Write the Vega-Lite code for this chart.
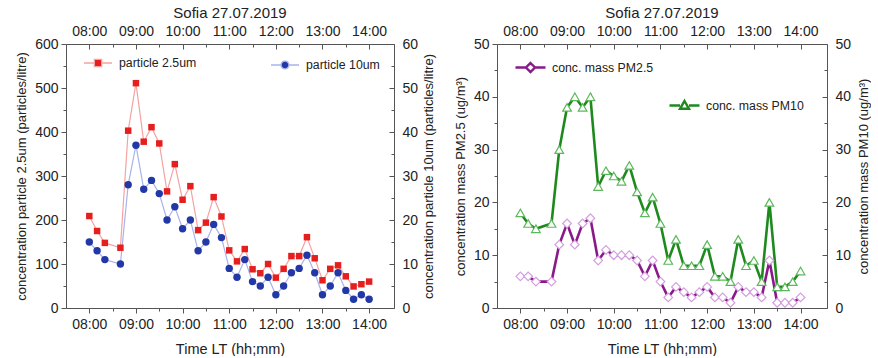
{
  "$schema": "https://vega.github.io/schema/vega-lite/v6.json",
  "padding": {"left": 15, "top": 6, "right": 0, "bottom": 0},
  "background": "white",
  "config": {
    "font": "Liberation Sans",
    "view": {"stroke": null},
    "axis": {"domainColor": "#555", "tickColor": "#555", "labelColor": "#222", "titleColor": "#222", "labelFontSize": 14, "titleFontSize": 13, "titleFontWeight": "normal", "grid": false, "domainWidth": 1, "tickWidth": 1},
    "title": {"fontSize": 15, "fontWeight": "normal", "color": "#222", "offset": 3},
    "legend": {"labelFontSize": 12.3, "labelColor": "#222", "labelFont": "Liberation Sans"}
  },
  "datasets": {
    "left": [
      {"time": "08:00", "p25": 209, "p10": 15},
      {"time": "08:10", "p25": 175, "p10": 13},
      {"time": "08:20", "p25": 148, "p10": 11},
      {"time": "08:40", "p25": 137, "p10": 10},
      {"time": "08:50", "p25": 403, "p10": 28},
      {"time": "09:00", "p25": 511, "p10": 37},
      {"time": "09:10", "p25": 378, "p10": 27},
      {"time": "09:20", "p25": 411, "p10": 29},
      {"time": "09:30", "p25": 374, "p10": 26},
      {"time": "09:40", "p25": 265, "p10": 20},
      {"time": "09:50", "p25": 327, "p10": 23},
      {"time": "10:00", "p25": 246, "p10": 18},
      {"time": "10:10", "p25": 277, "p10": 20},
      {"time": "10:20", "p25": 177, "p10": 13},
      {"time": "10:30", "p25": 194, "p10": 15},
      {"time": "10:40", "p25": 252, "p10": 19},
      {"time": "10:50", "p25": 208, "p10": 16},
      {"time": "11:00", "p25": 131, "p10": 9},
      {"time": "11:10", "p25": 106, "p10": 7},
      {"time": "11:20", "p25": 134, "p10": 11},
      {"time": "11:30", "p25": 88, "p10": 6},
      {"time": "11:40", "p25": 79, "p10": 5},
      {"time": "11:50", "p25": 100, "p10": 7},
      {"time": "12:00", "p25": 69, "p10": 3},
      {"time": "12:10", "p25": 89, "p10": 5},
      {"time": "12:20", "p25": 118, "p10": 8},
      {"time": "12:30", "p25": 118, "p10": 9},
      {"time": "12:40", "p25": 161, "p10": 12},
      {"time": "12:50", "p25": 113, "p10": 8},
      {"time": "13:00", "p25": 63, "p10": 3},
      {"time": "13:10", "p25": 89, "p10": 5},
      {"time": "13:20", "p25": 97, "p10": 8},
      {"time": "13:30", "p25": 72, "p10": 4},
      {"time": "13:40", "p25": 49, "p10": 2},
      {"time": "13:50", "p25": 54, "p10": 3},
      {"time": "14:00", "p25": 60, "p10": 2}
    ],
    "right": [
      {"time": "08:00", "pm25": 6, "pm10": 18},
      {"time": "08:10", "pm25": 6, "pm10": 16},
      {"time": "08:20", "pm25": 5, "pm10": 15},
      {"time": "08:40", "pm25": 5, "pm10": 16},
      {"time": "08:50", "pm25": 12, "pm10": 30},
      {"time": "09:00", "pm25": 16, "pm10": 38},
      {"time": "09:10", "pm25": 12, "pm10": 40},
      {"time": "09:20", "pm25": 16, "pm10": 38},
      {"time": "09:30", "pm25": 17, "pm10": 40},
      {"time": "09:40", "pm25": 9, "pm10": 23},
      {"time": "09:50", "pm25": 11, "pm10": 26},
      {"time": "10:00", "pm25": 10, "pm10": 25},
      {"time": "10:10", "pm25": 10, "pm10": 24},
      {"time": "10:20", "pm25": 10, "pm10": 27},
      {"time": "10:30", "pm25": 9, "pm10": 22},
      {"time": "10:40", "pm25": 6, "pm10": 18},
      {"time": "10:50", "pm25": 9, "pm10": 21},
      {"time": "11:00", "pm25": 5, "pm10": 16},
      {"time": "11:10", "pm25": 2, "pm10": 9},
      {"time": "11:20", "pm25": 4, "pm10": 13},
      {"time": "11:30", "pm25": 3, "pm10": 8},
      {"time": "11:40", "pm25": 2, "pm10": 8},
      {"time": "11:50", "pm25": 3, "pm10": 8},
      {"time": "12:00", "pm25": 4, "pm10": 12},
      {"time": "12:10", "pm25": 2, "pm10": 6},
      {"time": "12:20", "pm25": 2, "pm10": 6},
      {"time": "12:30", "pm25": 1, "pm10": 5},
      {"time": "12:40", "pm25": 4, "pm10": 13},
      {"time": "12:50", "pm25": 3, "pm10": 8},
      {"time": "13:00", "pm25": 3, "pm10": 9},
      {"time": "13:10", "pm25": 2, "pm10": 5},
      {"time": "13:20", "pm25": 9, "pm10": 20},
      {"time": "13:30", "pm25": 1, "pm10": 4},
      {"time": "13:40", "pm25": 1, "pm10": 4},
      {"time": "13:50", "pm25": 1, "pm10": 5},
      {"time": "14:00", "pm25": 2, "pm10": 7}
    ]
  },
  "spacing": 18,
  "hconcat": [
    {
      "width": 328,
      "height": 264,
      "title": "Sofia 27.07.2019",
      "data": {"name": "left", "format": {"parse": {"time": "date:'%H:%M'"}}},
      "resolve": {"scale": {"x": "independent", "y": "independent", "color": "independent"}},
      "layer": [
        {
          "mark": {"type": "line", "strokeWidth": 1.2},
          "encoding": {
            "x": {"field": "time", "type": "temporal",
              "scale": {"domain": [{"year": 1900, "month": 1, "date": 1, "hours": 7, "minutes": 30}, {"year": 1900, "month": 1, "date": 1, "hours": 14, "minutes": 32}]},
              "axis": {"orient": "bottom", "title": "Time LT (hh;mm)", "titleFontSize": 14.5, "format": "%H:%M", "labelExpr": "minutes(datum.value) == 0 ? datum.label : ''",
                "values": [{"year": 1900, "month": 1, "date": 1, "hours": 8, "minutes": 0}, {"year": 1900, "month": 1, "date": 1, "hours": 8, "minutes": 30}, {"year": 1900, "month": 1, "date": 1, "hours": 9, "minutes": 0}, {"year": 1900, "month": 1, "date": 1, "hours": 9, "minutes": 30}, {"year": 1900, "month": 1, "date": 1, "hours": 10, "minutes": 0}, {"year": 1900, "month": 1, "date": 1, "hours": 10, "minutes": 30}, {"year": 1900, "month": 1, "date": 1, "hours": 11, "minutes": 0}, {"year": 1900, "month": 1, "date": 1, "hours": 11, "minutes": 30}, {"year": 1900, "month": 1, "date": 1, "hours": 12, "minutes": 0}, {"year": 1900, "month": 1, "date": 1, "hours": 12, "minutes": 30}, {"year": 1900, "month": 1, "date": 1, "hours": 13, "minutes": 0}, {"year": 1900, "month": 1, "date": 1, "hours": 13, "minutes": 30}, {"year": 1900, "month": 1, "date": 1, "hours": 14, "minutes": 0}],
                "tickSize": {"condition": {"test": "minutes(datum.value) == 0", "value": 5}, "value": 3},
                "labelPadding": 4, "titlePadding": 11}},
            "y": {"field": "p25", "type": "quantitative", "scale": {"domain": [0, 600]},
              "axis": {"orient": "left", "title": "concentration particle 2.5um (particles/litre)", "values": [0, 50, 100, 150, 200, 250, 300, 350, 400, 450, 500, 550, 600], "labelExpr": "datum.value % 100 == 0 ? datum.label : ''",
                "tickSize": {"condition": {"test": "datum.value % 100 == 0", "value": 5}, "value": 3}, "labelPadding": 3, "titlePadding": 6}},
            "color": {"datum": "particle 2.5um", "type": "nominal", "scale": {"range": ["#f4a3a3"]},
              "legend": {"orient": "none", "legendX": 17, "legendY": 4, "title": null, "symbolType": "M-1,0H-0.26M0.26,0H1M-0.26,-0.26H0.26V0.26H-0.26Z", "symbolSize": 784, "symbolStrokeWidth": 1.3, "labelOffset": 6,
                "encode": {"symbols": {"update": {"fill": {"value": "#e61e1e"}, "stroke": {"value": "#f08c8c"}, "opacity": {"value": 1}, "strokeWidth": {"value": 1.3}}}}}}
          }
        },
        {
          "mark": {"type": "line", "strokeWidth": 1.2},
          "encoding": {
            "x": {"field": "time", "type": "temporal",
              "scale": {"domain": [{"year": 1900, "month": 1, "date": 1, "hours": 7, "minutes": 30}, {"year": 1900, "month": 1, "date": 1, "hours": 14, "minutes": 32}]},
              "axis": {"orient": "top", "title": null, "format": "%H:%M", "labelExpr": "minutes(datum.value) == 0 ? datum.label : ''",
                "values": [{"year": 1900, "month": 1, "date": 1, "hours": 8, "minutes": 0}, {"year": 1900, "month": 1, "date": 1, "hours": 8, "minutes": 30}, {"year": 1900, "month": 1, "date": 1, "hours": 9, "minutes": 0}, {"year": 1900, "month": 1, "date": 1, "hours": 9, "minutes": 30}, {"year": 1900, "month": 1, "date": 1, "hours": 10, "minutes": 0}, {"year": 1900, "month": 1, "date": 1, "hours": 10, "minutes": 30}, {"year": 1900, "month": 1, "date": 1, "hours": 11, "minutes": 0}, {"year": 1900, "month": 1, "date": 1, "hours": 11, "minutes": 30}, {"year": 1900, "month": 1, "date": 1, "hours": 12, "minutes": 0}, {"year": 1900, "month": 1, "date": 1, "hours": 12, "minutes": 30}, {"year": 1900, "month": 1, "date": 1, "hours": 13, "minutes": 0}, {"year": 1900, "month": 1, "date": 1, "hours": 13, "minutes": 30}, {"year": 1900, "month": 1, "date": 1, "hours": 14, "minutes": 0}],
                "tickSize": {"condition": {"test": "minutes(datum.value) == 0", "value": -5}, "value": -3},
                "labelPadding": 11}},
            "y": {"field": "p10", "type": "quantitative", "scale": {"domain": [0, 60]},
              "axis": {"orient": "right", "title": "concentration particle 10um (particles/litre)", "titleAngle": -90, "titleBaseline": "top", "values": [0, 5, 10, 15, 20, 25, 30, 35, 40, 45, 50, 55, 60], "labelExpr": "datum.value % 10 == 0 ? datum.label : ''",
                "tickSize": {"condition": {"test": "datum.value % 10 == 0", "value": -5}, "value": -3}, "labelPadding": 13, "titlePadding": 5}},
            "color": {"datum": "particle 10um", "type": "nominal", "scale": {"range": ["#a9b3ea"]},
              "legend": {"orient": "none", "legendX": 204, "legendY": 6, "title": null, "symbolType": "M-1,0H-0.28M0.28,0H1M0.28,0A0.28,0.28 0 1,1 -0.28,0A0.28,0.28 0 1,1 0.28,0Z", "symbolSize": 784, "symbolStrokeWidth": 1.3, "labelOffset": 6,
                "encode": {"symbols": {"update": {"fill": {"value": "#2238a6"}, "stroke": {"value": "#9aa6e6"}, "opacity": {"value": 1}, "strokeWidth": {"value": 1.3}}}}}}
          }
        },
        {
          "mark": {"type": "point", "shape": "square", "filled": true, "color": "#e61e1e", "size": 42, "opacity": 1},
          "encoding": {
            "x": {"field": "time", "type": "temporal", "scale": {"domain": [{"year": 1900, "month": 1, "date": 1, "hours": 7, "minutes": 30}, {"year": 1900, "month": 1, "date": 1, "hours": 14, "minutes": 32}]}, "axis": null},
            "y": {"field": "p25", "type": "quantitative", "scale": {"domain": [0, 600]}, "axis": null}
          }
        },
        {
          "mark": {"type": "point", "shape": "circle", "filled": true, "color": "#2238a6", "size": 55, "opacity": 1},
          "encoding": {
            "x": {"field": "time", "type": "temporal", "scale": {"domain": [{"year": 1900, "month": 1, "date": 1, "hours": 7, "minutes": 30}, {"year": 1900, "month": 1, "date": 1, "hours": 14, "minutes": 32}]}, "axis": null},
            "y": {"field": "p10", "type": "quantitative", "scale": {"domain": [0, 60]}, "axis": null}
          }
        }
      ]
    },
    {
      "width": 330,
      "height": 264,
      "title": "Sofia 27.07.2019",
      "data": {"name": "right", "format": {"parse": {"time": "date:'%H:%M'"}}},
      "resolve": {"scale": {"x": "independent", "y": "independent", "color": "independent"}},
      "layer": [
        {
          "mark": {"type": "line", "strokeWidth": 2.6},
          "encoding": {
            "x": {"field": "time", "type": "temporal",
              "scale": {"domain": [{"year": 1900, "month": 1, "date": 1, "hours": 7, "minutes": 30}, {"year": 1900, "month": 1, "date": 1, "hours": 14, "minutes": 34}]},
              "axis": {"orient": "bottom", "title": "Time LT (hh;mm)", "titleFontSize": 14.5, "format": "%H:%M", "labelExpr": "minutes(datum.value) == 0 ? datum.label : ''",
                "values": [{"year": 1900, "month": 1, "date": 1, "hours": 8, "minutes": 0}, {"year": 1900, "month": 1, "date": 1, "hours": 8, "minutes": 30}, {"year": 1900, "month": 1, "date": 1, "hours": 9, "minutes": 0}, {"year": 1900, "month": 1, "date": 1, "hours": 9, "minutes": 30}, {"year": 1900, "month": 1, "date": 1, "hours": 10, "minutes": 0}, {"year": 1900, "month": 1, "date": 1, "hours": 10, "minutes": 30}, {"year": 1900, "month": 1, "date": 1, "hours": 11, "minutes": 0}, {"year": 1900, "month": 1, "date": 1, "hours": 11, "minutes": 30}, {"year": 1900, "month": 1, "date": 1, "hours": 12, "minutes": 0}, {"year": 1900, "month": 1, "date": 1, "hours": 12, "minutes": 30}, {"year": 1900, "month": 1, "date": 1, "hours": 13, "minutes": 0}, {"year": 1900, "month": 1, "date": 1, "hours": 13, "minutes": 30}, {"year": 1900, "month": 1, "date": 1, "hours": 14, "minutes": 0}],
                "tickSize": {"condition": {"test": "minutes(datum.value) == 0", "value": 5}, "value": 3},
                "labelPadding": 4, "titlePadding": 11}},
            "y": {"field": "pm25", "type": "quantitative", "scale": {"domain": [0, 50]},
              "axis": {"orient": "left", "title": "concentration mass PM2.5 (ug/m³)", "values": [0, 5, 10, 15, 20, 25, 30, 35, 40, 45, 50], "labelExpr": "datum.value % 10 == 0 ? datum.label : ''",
                "tickSize": {"condition": {"test": "datum.value % 10 == 0", "value": 5}, "value": 3}, "labelPadding": 3, "titlePadding": 6}},
            "color": {"datum": "conc. mass PM2.5", "type": "nominal", "scale": {"range": ["#8a1a8a"]},
              "legend": {"orient": "none", "legendX": 17, "legendY": 7, "title": null, "symbolType": "M-1,0H-0.3M0.3,0H1M0,-0.3L0.3,0L0,0.3L-0.3,0Z", "symbolSize": 900, "symbolStrokeWidth": 2.4, "labelOffset": 5,
                "encode": {"symbols": {"update": {"fill": {"value": "#ffffff"}, "stroke": {"value": "#8a1a8a"}, "opacity": {"value": 1}, "strokeWidth": {"value": 2.4}}}}}}
          }
        },
        {
          "mark": {"type": "line", "strokeWidth": 2.6},
          "encoding": {
            "x": {"field": "time", "type": "temporal",
              "scale": {"domain": [{"year": 1900, "month": 1, "date": 1, "hours": 7, "minutes": 30}, {"year": 1900, "month": 1, "date": 1, "hours": 14, "minutes": 34}]},
              "axis": {"orient": "top", "title": null, "format": "%H:%M", "labelExpr": "minutes(datum.value) == 0 ? datum.label : ''",
                "values": [{"year": 1900, "month": 1, "date": 1, "hours": 8, "minutes": 0}, {"year": 1900, "month": 1, "date": 1, "hours": 8, "minutes": 30}, {"year": 1900, "month": 1, "date": 1, "hours": 9, "minutes": 0}, {"year": 1900, "month": 1, "date": 1, "hours": 9, "minutes": 30}, {"year": 1900, "month": 1, "date": 1, "hours": 10, "minutes": 0}, {"year": 1900, "month": 1, "date": 1, "hours": 10, "minutes": 30}, {"year": 1900, "month": 1, "date": 1, "hours": 11, "minutes": 0}, {"year": 1900, "month": 1, "date": 1, "hours": 11, "minutes": 30}, {"year": 1900, "month": 1, "date": 1, "hours": 12, "minutes": 0}, {"year": 1900, "month": 1, "date": 1, "hours": 12, "minutes": 30}, {"year": 1900, "month": 1, "date": 1, "hours": 13, "minutes": 0}, {"year": 1900, "month": 1, "date": 1, "hours": 13, "minutes": 30}, {"year": 1900, "month": 1, "date": 1, "hours": 14, "minutes": 0}],
                "tickSize": {"condition": {"test": "minutes(datum.value) == 0", "value": -5}, "value": -3},
                "labelPadding": 11}},
            "y": {"field": "pm10", "type": "quantitative", "scale": {"domain": [0, 50]},
              "axis": {"orient": "right", "title": "concentration mass PM10 (ug/m³)", "titleAngle": -90, "titleBaseline": "top", "values": [0, 5, 10, 15, 20, 25, 30, 35, 40, 45, 50], "labelExpr": "datum.value % 10 == 0 ? datum.label : ''",
                "tickSize": {"condition": {"test": "datum.value % 10 == 0", "value": -5}, "value": -3}, "labelPadding": 13, "titlePadding": 7}},
            "color": {"datum": "conc. mass PM10", "type": "nominal", "scale": {"range": ["#1e8a1e"]},
              "legend": {"orient": "none", "legendX": 171, "legendY": 45, "title": null, "symbolType": "M-1,0H-0.3M0.3,0H1M0,-0.3L0.3,0.22L-0.3,0.22Z", "symbolSize": 900, "symbolStrokeWidth": 2.4, "labelOffset": 5,
                "encode": {"symbols": {"update": {"fill": {"value": "#ffffff"}, "stroke": {"value": "#1e8a1e"}, "opacity": {"value": 1}, "strokeWidth": {"value": 2.4}}}}}}
          }
        },
        {
          "mark": {"type": "point", "shape": "diamond", "filled": true, "fill": "#ffffff", "stroke": "#d49ee0", "strokeWidth": 1.2, "size": 75, "opacity": 1},
          "encoding": {
            "x": {"field": "time", "type": "temporal", "scale": {"domain": [{"year": 1900, "month": 1, "date": 1, "hours": 7, "minutes": 30}, {"year": 1900, "month": 1, "date": 1, "hours": 14, "minutes": 34}]}, "axis": null},
            "y": {"field": "pm25", "type": "quantitative", "scale": {"domain": [0, 50]}, "axis": null}
          }
        },
        {
          "mark": {"type": "point", "shape": "triangle-up", "filled": true, "fill": "#ffffff", "stroke": "#5cb85c", "strokeWidth": 1.2, "size": 75, "opacity": 1},
          "encoding": {
            "x": {"field": "time", "type": "temporal", "scale": {"domain": [{"year": 1900, "month": 1, "date": 1, "hours": 7, "minutes": 30}, {"year": 1900, "month": 1, "date": 1, "hours": 14, "minutes": 34}]}, "axis": null},
            "y": {"field": "pm10", "type": "quantitative", "scale": {"domain": [0, 50]}, "axis": null}
          }
        }
      ]
    }
  ]
}
